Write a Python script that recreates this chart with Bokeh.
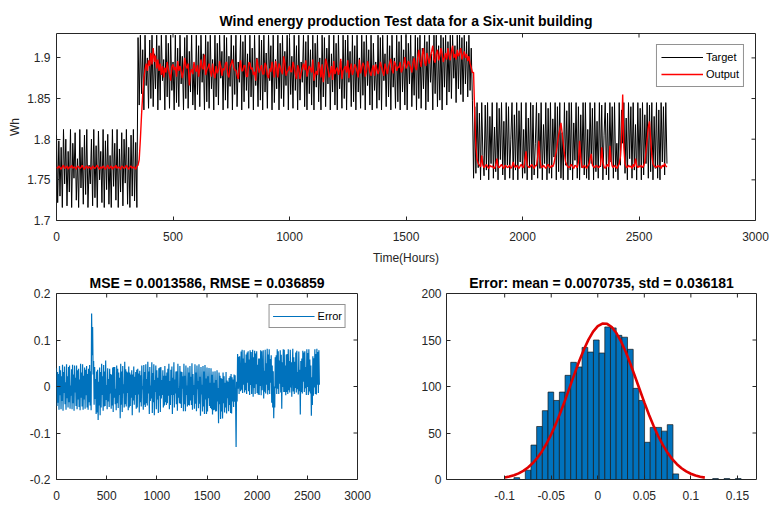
from bokeh.plotting import figure
from bokeh.layouts import column, row
from bokeh.models import FixedTicker, Range1d
from bokeh.embed import file_html
from bokeh.resources import INLINE

# ---------------- data ----------------
STEP = 5  # hours between samples

# Test target (Wh), one value every 5 hours starting at hour 0
target = [
    # hours 0 - 345
    1.805, 1.722, 1.798, 1.730, 1.790, 1.716, 1.812, 1.745, 1.800, 1.718,
    1.785, 1.735, 1.812, 1.716, 1.795, 1.752, 1.808, 1.725, 1.776, 1.716,
    1.812, 1.740, 1.790, 1.720, 1.805, 1.732, 1.812, 1.716, 1.768, 1.745,
    1.800, 1.718, 1.812, 1.728, 1.792, 1.716, 1.810, 1.750, 1.785, 1.722,
    1.812, 1.716, 1.798, 1.738, 1.806, 1.720, 1.780, 1.716, 1.812, 1.742,
    1.795, 1.725, 1.812, 1.716, 1.788, 1.735, 1.808, 1.718, 1.800, 1.746,
    1.812, 1.720, 1.790, 1.716, 1.805, 1.730, 1.812, 1.724, 1.796, 1.716,
    # hours 350 - 1785
    1.925, 1.842, 1.928, 1.856, 1.910, 1.836, 1.928, 1.866, 1.900, 1.838, 1.922, 1.850,
    1.928, 1.840, 1.905, 1.862, 1.928, 1.836, 1.915, 1.848, 1.928, 1.872, 1.898, 1.836,
    1.928, 1.852, 1.918, 1.838, 1.928, 1.860, 1.895, 1.836, 1.928, 1.845, 1.912, 1.840,
    1.928, 1.868, 1.902, 1.836, 1.925, 1.850, 1.928, 1.838, 1.908, 1.858, 1.928, 1.842,
    1.890, 1.836, 1.928, 1.855, 1.915, 1.840, 1.928, 1.870, 1.905, 1.836, 1.928, 1.846,
    1.920, 1.838, 1.928, 1.862, 1.898, 1.836, 1.928, 1.852, 1.918, 1.842, 1.928, 1.875,
    1.908, 1.836, 1.928, 1.848, 1.925, 1.838, 1.902, 1.865, 1.928, 1.836, 1.915, 1.855,
    1.928, 1.840, 1.895, 1.870, 1.928, 1.836, 1.920, 1.846, 1.928, 1.860, 1.905, 1.838,
    1.928, 1.852, 1.912, 1.836, 1.928, 1.866, 1.900, 1.840, 1.928, 1.848, 1.922, 1.836,
    1.928, 1.858, 1.906, 1.838, 1.928, 1.872, 1.915, 1.836, 1.928, 1.845, 1.898, 1.862,
    1.928, 1.836, 1.918, 1.850, 1.928, 1.840, 1.908, 1.866, 1.928, 1.836, 1.925, 1.855,
    1.902, 1.838, 1.928, 1.860, 1.915, 1.836, 1.928, 1.848, 1.895, 1.870, 1.928, 1.840,
    1.920, 1.836, 1.928, 1.856, 1.910, 1.842, 1.928, 1.836, 1.918, 1.864, 1.928, 1.846,
    1.900, 1.836, 1.928, 1.852, 1.925, 1.840, 1.912, 1.868, 1.928, 1.836, 1.905, 1.858,
    1.928, 1.842, 1.918, 1.836, 1.928, 1.862, 1.896, 1.838, 1.928, 1.850, 1.922, 1.836,
    1.928, 1.870, 1.908, 1.840, 1.928, 1.846, 1.915, 1.836, 1.928, 1.858, 1.900, 1.838,
    1.928, 1.854, 1.920, 1.836, 1.928, 1.866, 1.910, 1.842, 1.928, 1.836, 1.918, 1.860,
    1.895, 1.838, 1.928, 1.848, 1.925, 1.836, 1.928, 1.872, 1.905, 1.840, 1.928, 1.852,
    1.915, 1.836, 1.928, 1.864, 1.900, 1.838, 1.928, 1.846, 1.920, 1.836, 1.928, 1.858,
    1.910, 1.842, 1.928, 1.836, 1.918, 1.868, 1.928, 1.840, 1.902, 1.854, 1.928, 1.836,
    1.925, 1.850, 1.928, 1.838, 1.912, 1.862, 1.928, 1.836, 1.920, 1.846, 1.928, 1.870,
    1.905, 1.836, 1.928, 1.856, 1.928, 1.840, 1.915, 1.848, 1.928, 1.836, 1.925, 1.864,
    1.928, 1.842, 1.920, 1.858, 1.928, 1.850, 1.928, 1.875, 1.915, 1.845, 1.928, 1.862,
    1.928, 1.855, 1.925, 1.846, 1.928, 1.868, 1.920, 1.852, 1.928, 1.860, 1.912, 1.848,
    # hours 1790 - 2620
    1.752, 1.840, 1.758, 1.845, 1.765, 1.832, 1.750, 1.845, 1.780, 1.755, 1.842, 1.762,
    1.845, 1.750, 1.828, 1.770, 1.845, 1.752, 1.815, 1.760, 1.845, 1.750, 1.838, 1.775,
    1.845, 1.756, 1.822, 1.750, 1.845, 1.768, 1.840, 1.752, 1.800, 1.845, 1.750, 1.830,
    1.762, 1.845, 1.750, 1.835, 1.772, 1.845, 1.752, 1.812, 1.758, 1.845, 1.750, 1.826,
    1.766, 1.845, 1.750, 1.842, 1.756, 1.795, 1.845, 1.752, 1.832, 1.764, 1.845, 1.750,
    1.818, 1.770, 1.845, 1.750, 1.838, 1.758, 1.845, 1.752, 1.825, 1.778, 1.845, 1.750,
    1.840, 1.760, 1.845, 1.752, 1.808, 1.750, 1.845, 1.768, 1.835, 1.750, 1.845, 1.762,
    1.845, 1.750, 1.820, 1.774, 1.845, 1.752, 1.840, 1.750, 1.830, 1.765, 1.845, 1.756,
    1.845, 1.752, 1.812, 1.750, 1.845, 1.770, 1.838, 1.750, 1.845, 1.760, 1.822, 1.752,
    1.845, 1.766, 1.842, 1.750, 1.805, 1.845, 1.756, 1.832, 1.750, 1.845, 1.772, 1.840,
    1.752, 1.845, 1.760, 1.795, 1.750, 1.845, 1.768, 1.836, 1.795, 1.845, 1.758, 1.826,
    1.750, 1.845, 1.776, 1.840, 1.752, 1.845, 1.762, 1.818, 1.750, 1.845, 1.766, 1.838,
    1.750, 1.845, 1.756, 1.830, 1.770, 1.845, 1.752, 1.842, 1.760, 1.845, 1.750, 1.828,
    1.764, 1.845, 1.752, 1.836, 1.750, 1.845, 1.772, 1.840, 1.756, 1.845, 1.770,
]

# Network output (Wh), same hours
output = [
    # hours 0 - 345
    1.766, 1.764, 1.767, 1.765, 1.763, 1.766, 1.768, 1.764, 1.765, 1.767,
    1.763, 1.766, 1.765, 1.768, 1.764, 1.766, 1.765, 1.763, 1.767, 1.766,
    1.764, 1.765, 1.768, 1.765, 1.763, 1.766, 1.767, 1.764, 1.766, 1.765,
    1.763, 1.767, 1.765, 1.764, 1.766, 1.768, 1.765, 1.763, 1.766, 1.764,
    1.767, 1.765, 1.763, 1.766, 1.768, 1.764, 1.765, 1.767, 1.763, 1.766,
    1.765, 1.768, 1.764, 1.766, 1.765, 1.763, 1.767, 1.766, 1.764, 1.765,
    1.768, 1.765, 1.763, 1.766, 1.767, 1.764, 1.766, 1.765, 1.763, 1.767,
    # hours 350 - 1785
    1.768, 1.775, 1.800, 1.830, 1.855, 1.875, 1.886, 1.893, 1.884, 1.897, 1.890, 1.906,
    1.892, 1.912, 1.895, 1.903, 1.887, 1.898, 1.884, 1.893, 1.879, 1.890, 1.876, 1.888,
    1.882, 1.895, 1.886, 1.880, 1.872, 1.889, 1.892, 1.885, 1.889, 1.877, 1.896, 1.884,
    1.890, 1.883, 1.875, 1.884, 1.900, 1.891, 1.887, 1.893, 1.866, 1.882, 1.886, 1.880,
    1.895, 1.887, 1.883, 1.891, 1.877, 1.886, 1.898, 1.888, 1.886, 1.904, 1.879, 1.885,
    1.888, 1.893, 1.884, 1.877, 1.893, 1.881, 1.875, 1.890, 1.881, 1.885, 1.896, 1.889,
    1.878, 1.887, 1.885, 1.893, 1.895, 1.880, 1.876, 1.889, 1.893, 1.898, 1.889, 1.885,
    1.885, 1.879, 1.874, 1.888, 1.897, 1.884, 1.884, 1.891, 1.890, 1.877, 1.877, 1.894,
    1.894, 1.886, 1.888, 1.879, 1.883, 1.872, 1.899, 1.890, 1.882, 1.887, 1.891, 1.880,
    1.880, 1.894, 1.890, 1.879, 1.875, 1.887, 1.883, 1.895, 1.886, 1.876, 1.896, 1.888,
    1.876, 1.893, 1.889, 1.884, 1.880, 1.902, 1.894, 1.878, 1.883, 1.885, 1.890, 1.883,
    1.883, 1.895, 1.889, 1.880, 1.874, 1.891, 1.886, 1.874, 1.881, 1.888, 1.893, 1.885,
    1.897, 1.877, 1.884, 1.890, 1.887, 1.882, 1.898, 1.872, 1.880, 1.884, 1.879, 1.895,
    1.888, 1.876, 1.892, 1.870, 1.882, 1.899, 1.893, 1.886, 1.876, 1.881, 1.890, 1.873,
    1.896, 1.880, 1.885, 1.888, 1.879, 1.886, 1.899, 1.874, 1.884, 1.887, 1.890, 1.882,
    1.897, 1.875, 1.886, 1.893, 1.879, 1.884, 1.892, 1.889, 1.883, 1.876, 1.898, 1.881,
    1.887, 1.894, 1.890, 1.877, 1.884, 1.896, 1.889, 1.882, 1.878, 1.886, 1.891, 1.878,
    1.892, 1.886, 1.880, 1.885, 1.895, 1.889, 1.883, 1.878, 1.893, 1.887, 1.880, 1.889,
    1.894, 1.899, 1.886, 1.881, 1.896, 1.892, 1.884, 1.889, 1.888, 1.895, 1.882, 1.886,
    1.893, 1.901, 1.887, 1.890, 1.896, 1.893, 1.888, 1.882, 1.894, 1.900, 1.889, 1.885,
    1.900, 1.910, 1.896, 1.889, 1.904, 1.912, 1.895, 1.890, 1.906, 1.899, 1.893, 1.902,
    1.908, 1.915, 1.898, 1.894, 1.905, 1.910, 1.897, 1.902, 1.912, 1.905, 1.895, 1.900,
    1.906, 1.898, 1.912, 1.903, 1.897, 1.908, 1.915, 1.900, 1.905, 1.898, 1.910, 1.902,
    1.906, 1.912, 1.898, 1.904, 1.908, 1.900, 1.905, 1.896, 1.902, 1.893, 1.888, 1.882,
    # hours 1790 - 2620
    1.882, 1.830, 1.790, 1.775, 1.770, 1.768, 1.766, 1.780, 1.768, 1.765, 1.767, 1.769,
    1.766, 1.764, 1.768, 1.766, 1.767, 1.765, 1.764, 1.768, 1.776, 1.766, 1.765, 1.767,
    1.769, 1.766, 1.764, 1.768, 1.767, 1.765, 1.766, 1.768, 1.764, 1.766, 1.772, 1.767,
    1.765, 1.768, 1.766, 1.764, 1.767, 1.769, 1.766, 1.765, 1.775, 1.785, 1.768, 1.766,
    1.765, 1.767, 1.769, 1.766, 1.764, 1.768, 1.767, 1.778, 1.798, 1.775, 1.766, 1.765,
    1.768, 1.766, 1.764, 1.767, 1.769, 1.766, 1.765, 1.768, 1.766, 1.770, 1.778, 1.785,
    1.795, 1.805, 1.812, 1.820, 1.808, 1.795, 1.782, 1.772, 1.768, 1.766, 1.765, 1.767,
    1.769, 1.766, 1.764, 1.768, 1.767, 1.765, 1.772, 1.798, 1.778, 1.766, 1.765, 1.768,
    1.766, 1.764, 1.767, 1.769, 1.776, 1.782, 1.768, 1.766, 1.765, 1.768, 1.767, 1.765,
    1.766, 1.768, 1.790, 1.772, 1.766, 1.764, 1.767, 1.769, 1.766, 1.792, 1.775, 1.767,
    1.765, 1.768, 1.766, 1.764, 1.767, 1.770, 1.778, 1.800, 1.855, 1.790, 1.770, 1.766,
    1.765, 1.768, 1.766, 1.767, 1.764, 1.769, 1.766, 1.776, 1.768, 1.765, 1.767, 1.766,
    1.768, 1.765, 1.767, 1.772, 1.785, 1.800, 1.815, 1.822, 1.800, 1.780, 1.770, 1.767,
    1.766, 1.765, 1.768, 1.766, 1.767, 1.764, 1.768, 1.766, 1.770, 1.767, 1.766,
]

hours_t = list(range(0, STEP * len(target), STEP))
hours_o = list(range(0, STEP * len(output), STEP))
n = min(len(target), len(output))
hours_e = hours_t[:n]
error = [t - o for t, o in zip(target[:n], output[:n])]

# Histogram of the error
hist_centers = [-0.0870,
                -0.0748, -0.0687, -0.0626, -0.0565, -0.0504, -0.0443, -0.0382, -0.0321, -0.0260,
                -0.0199, -0.0138, -0.0077, -0.0016, 0.0045, 0.0106, 0.0167, 0.0228, 0.0289,
                0.0350, 0.0411, 0.0472, 0.0533, 0.0594, 0.0655, 0.0716, 0.0777, 0.0838,
                0.1265, 0.1387, 0.1509]
hist_counts = [2,
               10, 37, 57, 74, 94, 85, 94, 112, 126,
               121, 142, 137, 150, 136, 164, 163, 155, 153,
               140, 98, 85, 40, 56, 56, 52, 59, 6,
               1, 1, 1]
bin_width = 0.0061

# Fitted normal curve
fit_x = [-0.100, -0.095, -0.090, -0.085, -0.080, -0.075, -0.070, -0.065, -0.060, -0.055,
         -0.050, -0.045, -0.040, -0.035, -0.030, -0.025, -0.020, -0.015, -0.010, -0.005,
         0.000, 0.005, 0.010, 0.015, 0.020, 0.025, 0.030, 0.035, 0.040, 0.045,
         0.050, 0.055, 0.060, 0.065, 0.070, 0.075, 0.080, 0.085, 0.090, 0.095,
         0.100, 0.105, 0.110, 0.115]
fit_y = [2.1, 3.2, 4.6, 6.6, 9.3, 12.9, 17.4, 23.2, 30.2, 38.7,
         48.6, 59.8, 72.3, 85.6, 99.6, 113.6, 127.2, 139.6, 150.4, 159.0,
         164.9, 167.7, 167.4, 164.0, 157.5, 148.4, 137.3, 124.5, 110.8, 96.8,
         82.9, 69.7, 57.5, 46.5, 36.9, 28.7, 21.9, 16.4, 12.1, 8.7,
         6.2, 4.3, 2.9, 2.0]

time_ticks = [0, 500, 1000, 1500, 2000, 2500, 3000]
time_labels = ["0", "500", "1000", "1500", "2000", "2500", "3000"]
wh_ticks = [1.7, 1.75, 1.8, 1.85, 1.9]
wh_labels = ["1.7", "1.75", "1.8", "1.85", "1.9"]
err_ticks = [-0.2, -0.1, 0, 0.1, 0.2]
err_labels = ["-0.2", "-0.1", "0", "0.1", "0.2"]
hx_ticks = [-0.1, -0.05, 0, 0.05, 0.1, 0.15]
hx_labels = ["-0.1", "-0.05", "0", "0.05", "0.1", "0.15"]
hy_ticks = [0, 50, 100, 150, 200]
hy_labels = ["0", "50", "100", "150", "200"]

# ---------------- styling helpers ----------------
FONT = "Liberation Sans"
AXC = "#262626"
BLUE = "#0072BD"


def base(w, h, xr, yr, bl, br, bt, bb):
    p = figure(width=w, height=h, x_range=Range1d(*xr), y_range=Range1d(*yr),
               output_backend="svg", toolbar_location=None,
               min_border_left=bl, min_border_right=br,
               min_border_top=bt, min_border_bottom=bb)
    p.xgrid.visible = False
    p.ygrid.visible = False
    p.outline_line_color = AXC
    p.outline_line_width = 1
    p.outline_line_alpha = 1
    p.background_fill_color = "white"
    p.border_fill_color = "white"
    return p


def style_axis(ax, ticks, labels, standoff):
    ax.ticker = FixedTicker(ticks=ticks)
    ax.major_label_overrides = {t: l for t, l in zip(ticks, labels)}
    ax.axis_line_color = None
    ax.major_tick_in = 4
    ax.major_tick_out = 0
    ax.major_tick_line_color = AXC
    ax.minor_tick_line_color = None
    ax.major_label_text_font = FONT
    ax.major_label_text_font_size = "12px"
    ax.major_label_text_color = AXC
    ax.major_label_standoff = standoff
    ax.axis_label_text_font = FONT
    ax.axis_label_text_font_size = "12px"
    ax.axis_label_text_font_style = "normal"
    ax.axis_label_text_color = AXC


def mirror_ticks(p, xt, yt, xr, yr, fw, fh):
    """Inward tick marks on the top and right frame edges (box on)."""
    dy = 4 * (yr[1] - yr[0]) / fh
    dx = 4 * (xr[1] - xr[0]) / fw
    xs = [t for t in xt if xr[0] < t < xr[1]]
    ys = [t for t in yt if yr[0] < t < yr[1]]
    p.segment(x0=xs, y0=[yr[1]] * len(xs), x1=xs, y1=[yr[1] - dy] * len(xs),
              line_color=AXC, line_width=1)
    p.segment(x0=[xr[1]] * len(ys), y0=ys, x1=[xr[1] - dx] * len(ys), y1=ys,
              line_color=AXC, line_width=1)


def style_title(p, text, size, standoff):
    p.title.text = text
    p.title.align = "center"
    p.title.text_font = FONT
    p.title.text_font_size = size
    p.title.text_font_style = "bold"
    p.title.text_color = "black"
    p.title.standoff = standoff


def style_legend(p, margin, pad):
    lg = p.legend[0]
    lg.location = "top_right"
    lg.margin = margin
    lg.padding = pad
    lg.spacing = 1
    lg.glyph_width = 42
    lg.glyph_height = 16
    lg.label_height = 16
    lg.label_standoff = 3
    lg.label_text_font = FONT
    lg.label_text_font_size = "11px"
    lg.label_text_color = "black"
    lg.border_line_color = AXC
    lg.border_line_width = 1
    lg.background_fill_alpha = 1


# ---------------- top: target vs output ----------------
X1, Y1 = (0, 3000), (1.7, 1.93)
p1 = base(771, 270, X1, Y1, 56, 16, 33, 50)
p1.line(hours_t, target, color="black", line_width=1.0, legend_label="Target")
p1.line(hours_o, output, color="#FF0000", line_width=1.4, legend_label="Output")
style_axis(p1.xaxis[0], time_ticks, time_labels, 11)
style_axis(p1.yaxis[0], wh_ticks, wh_labels, 6)
p1.xaxis[0].axis_label = "Time(Hours)"
p1.xaxis[0].axis_label_standoff = 7
p1.yaxis[0].axis_label = "Wh"
p1.yaxis[0].axis_label_standoff = 2
mirror_ticks(p1, time_ticks, wh_ticks, X1, Y1, 699, 187)
style_title(p1, "Wind energy production Test data for a Six-unit building", "14px", 9)
style_legend(p1, 11, 4)

# ---------------- bottom left: error over time ----------------
X2, Y2 = (0, 3000), (-0.2, 0.2)
p2 = base(400, 237, X2, Y2, 56, 43, 23, 28)
p2.line(hours_e, error, color=BLUE, line_width=1.2, legend_label="Error")
style_axis(p2.xaxis[0], time_ticks, time_labels, 11)
style_axis(p2.yaxis[0], err_ticks, err_labels, 6)
mirror_ticks(p2, time_ticks, err_ticks, X2, Y2, 301, 186)
style_title(p2, "MSE = 0.0013586, RMSE = 0.036859", "14px", 5)
style_legend(p2, 11, 3)

# ---------------- bottom right: error histogram + fit ----------------
X3, Y3 = (-0.1625, 0.1705), (0, 200)
p3 = base(371, 237, X3, Y3, 46, 15, 23, 28)
p3.vbar(x=hist_centers, top=hist_counts, width=bin_width, bottom=0,
        fill_color=BLUE, line_color="#1a1a1a", line_width=0.7)
p3.line(fit_x, fit_y, color="#E00000", line_width=2.6)
style_axis(p3.xaxis[0], hx_ticks, hx_labels, 11)
style_axis(p3.yaxis[0], hy_ticks, hy_labels, 5)
mirror_ticks(p3, hx_ticks, hy_ticks, X3, Y3, 310, 186)
style_title(p3, "Error: mean = 0.0070735, std = 0.036181", "14px", 5)

layout = column(p1, row(p2, p3))

with open("out.html", "w") as f:
    f.write(file_html(layout, INLINE))
